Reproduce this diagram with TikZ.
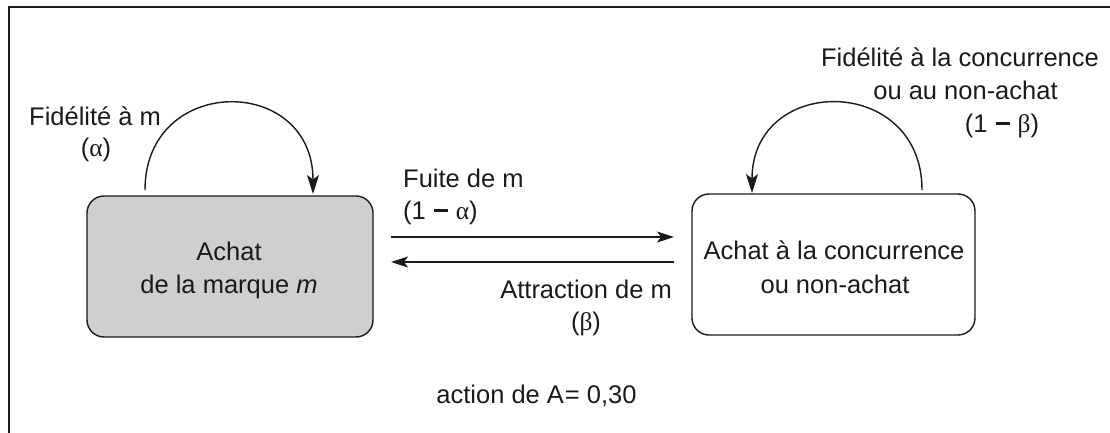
\documentclass[tikz,border=0pt]{standalone}
\usepackage{fontspec}
\setmainfont{Liberation Sans}
\newfontfamily\grk{Liberation Serif}
\usetikzlibrary{arrows.meta}
\definecolor{ink}{HTML}{1A1A1A}
\definecolor{boxgray}{HTML}{CFCFCF}
\newcommand{\mydash}{\kern8pt\rule[7.5pt]{14pt}{2.4pt}\kern8pt}
\begin{document}
\begin{tikzpicture}[x=1pt,y=-1pt,
  lbl/.style={inner sep=0pt,anchor=base,text=ink,font=\fontsize{25.5}{33}\selectfont},
  statebox/.style={draw=ink,line width=1.4pt,rounded corners=17pt,inner sep=0pt},
  arr/.style={draw=ink,line width=1.4pt,-{Stealth[length=17pt,width=11pt,inset=4pt]}},
  looparr/.style={draw=ink,line width=1.4pt,-{Stealth[length=19pt,width=12pt,inset=4.5pt]}},
  frameline/.style={draw=ink,line width=1.6pt}]
\useasboundingbox (0,0) rectangle (1110,433);
% frame
\coordinate (fbl) at (9,433);
\coordinate (ftl) at (9,7);
\coordinate (ftr) at (1110,7);
\draw[frameline] (fbl) -- (ftl) -- (ftr);
% boxes
\node[statebox,fill=boxgray,minimum width=286pt,minimum height=141pt] (lbox) at (230,266.5) {};
\node[statebox,fill=white,minimum width=283pt,minimum height=141pt] (rbox) at (833.5,264.5) {};
% box texts
\node[lbl] (l1) at (229,260) {Achat};
\node[lbl] (l2) at (229,293) {de la marque \textit{m}};
\node[lbl] (r1) at (834,259) {Achat à la concurrence};
\node[lbl] (r2) at (835,293) {ou non-achat};
% loops
\coordinate (las) at (145,190);
\coordinate (lae) at (313,194);
\draw[looparr] (las) .. controls (145,74) and (313,74) .. (lae);
\coordinate (ras) at (922,190);
\coordinate (rae) at (752,193);
\draw[looparr] (ras) .. controls (922,74) and (752,74) .. (rae);
% horizontal arrows
\coordinate (a1s) at (391,237);
\coordinate (a1e) at (674,237);
\coordinate (a2s) at (674,262);
\coordinate (a2e) at (391,262);
\draw[arr] (a1s) -- (a1e);
\draw[arr] (a2s) -- (a2e);
% labels
\node[lbl,anchor=base west] (fa) at (29,125) {Fidélité à m};
\node[lbl] (fb) at (96,157) {({\grk α})};
\node[lbl,anchor=base west] (ua) at (403,187) {Fuite de m};
\node[lbl,anchor=base west] (ub) at (403,219) {(1\mydash{\grk α})};
\node[lbl,anchor=base east] (ta) at (672,298) {Attraction de m};
\node[lbl] (tb) at (586,330) {({\grk β})};
\node[lbl] (ca) at (960,67) {Fidélité à la concurrence};
\node[lbl] (cb) at (965.5,100) {ou au non-achat};
\node[lbl] (cc) at (1002,132) {(1\mydash{\grk β})};
\node[lbl] (act) at (536.5,403) {action de A\kern1pt= 0,30};
\end{tikzpicture}
\end{document}
